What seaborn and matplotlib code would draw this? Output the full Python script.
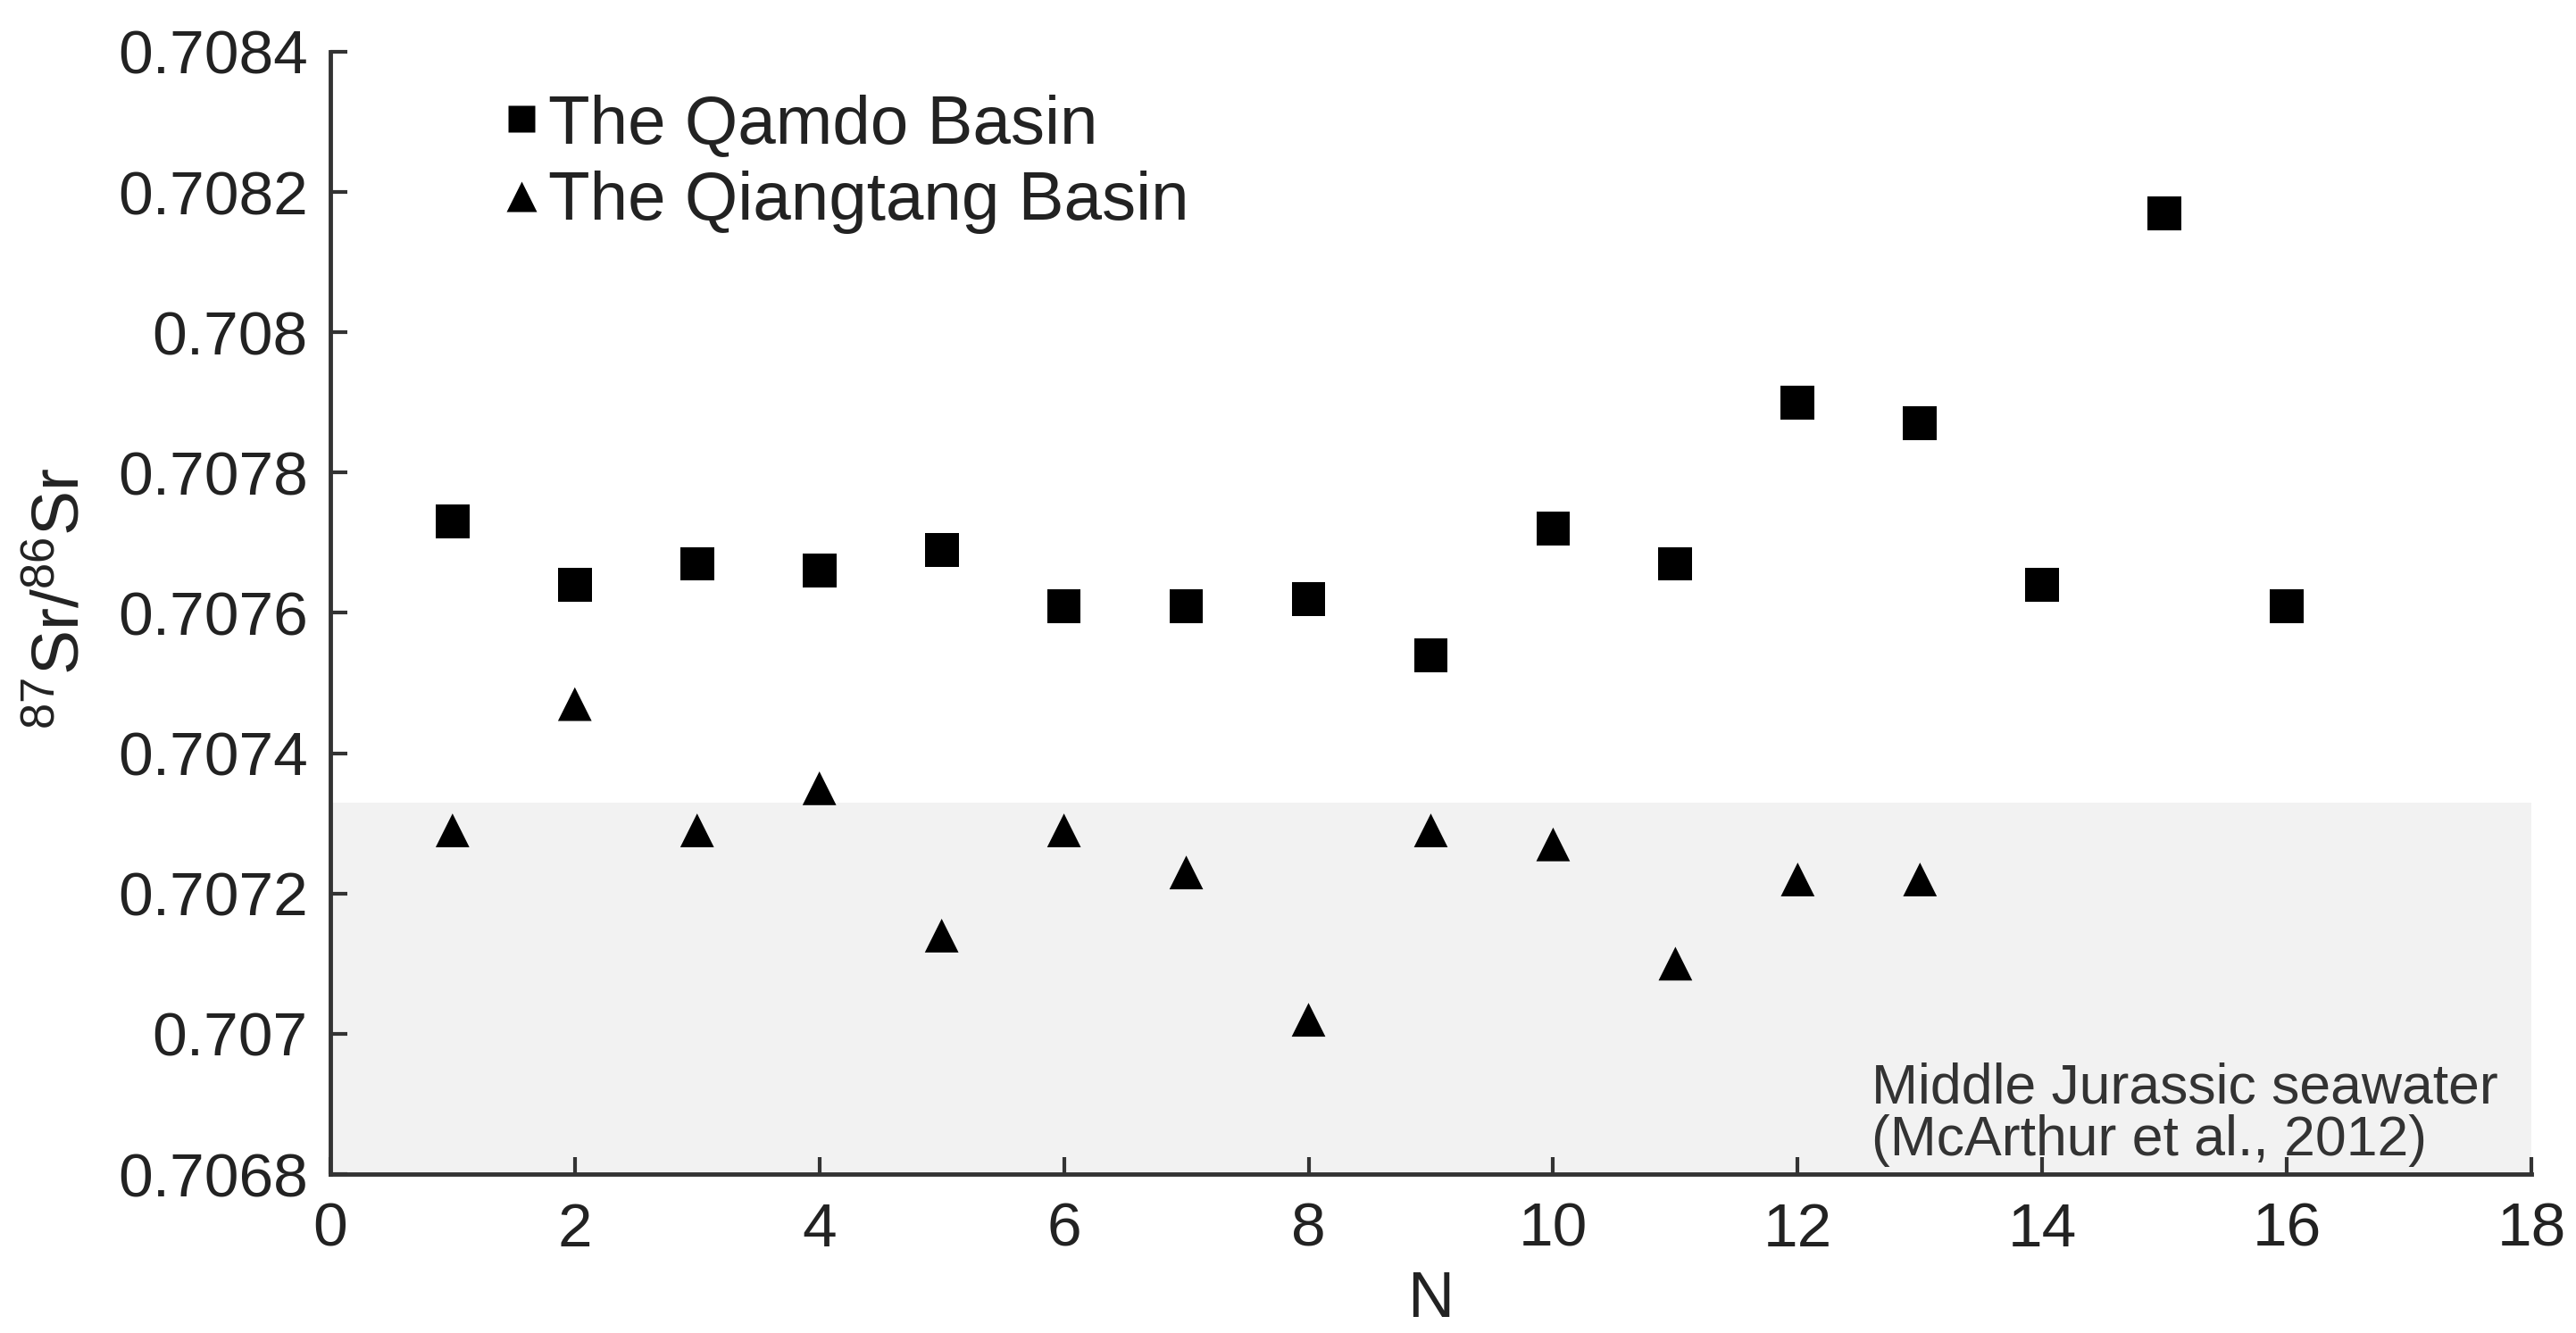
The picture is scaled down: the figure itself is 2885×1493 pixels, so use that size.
import numpy as np
import pandas as pd
import seaborn as sns
import matplotlib.pyplot as plt
from matplotlib.lines import Line2D

# valores
n_qamdo = [1, 2, 3, 4, 5, 6, 7, 8, 9, 10, 11, 12, 13, 14, 15, 16]
sr_qamdo = [0.70773, 0.70764, 0.70767, 0.70766, 0.70769, 0.70761, 0.70761, 0.70762,
            0.70754, 0.70772, 0.70767, 0.70790, 0.70787, 0.70764, 0.70817, 0.70761]

n_qiangtang = [1, 2, 3, 4, 5, 6, 7, 8, 9, 10, 11, 12, 13]
sr_qiangtang = [0.70729, 0.70747, 0.70729, 0.70735, 0.70714, 0.70729, 0.70723, 0.70702,
                0.70729, 0.70727, 0.70710, 0.70722, 0.70722]

# faixa da agua do mar do Jurassico medio
seawater_low = 0.7068
seawater_high = 0.70733

labels = ['The Qamdo Basin', 'The Qiangtang Basin']

df = pd.concat([
    pd.DataFrame({'N': n_qamdo, 'Sr': sr_qamdo, 'Basin': labels[0]}),
    pd.DataFrame({'N': n_qiangtang, 'Sr': sr_qiangtang, 'Basin': labels[1]}),
])

sns.set_theme(style='ticks')
plt.rcParams['font.family'] = ['Liberation Sans', 'DejaVu Sans']
plt.rcParams['mathtext.default'] = 'regular'

fig = plt.figure(figsize=(28.85, 14.93), dpi=100)
ax = fig.add_axes([0.1282, 0.1192, 0.8545, 0.842])

ax.axhspan(seawater_low, seawater_high, color='#f2f2f2', lw=0, zorder=0)

sns.scatterplot(data=df, x='N', y='Sr', style='Basin', markers={labels[0]: 's', labels[1]: '^'},
                color='black', s=740, edgecolor='none', legend=False, ax=ax, zorder=3)

ax.set_xlim(0, 18)
ax.set_ylim(0.7068, 0.7084)
ax.set_xticks(np.arange(0, 19, 2))
ax.set_yticks([0.7068, 0.707, 0.7072, 0.7074, 0.7076, 0.7078, 0.708, 0.7082, 0.7084])
ax.set_yticklabels(['0.7068', '0.707', '0.7072', '0.7074', '0.7076', '0.7078', '0.708', '0.7082', '0.7084'])

sns.despine(ax=ax)
for side in ['left', 'bottom']:
    ax.spines[side].set_linewidth(3.5)
    ax.spines[side].set_color('#333333')
ax.tick_params(direction='in', length=14, width=3, color='#333333', labelsize=50,
               labelcolor='#222222')
ax.tick_params(axis='y', pad=18)
ax.tick_params(axis='x', pad=22)

ax.set_xlabel('N', fontsize=52, color='#222222', labelpad=10)
ax.set_ylabel(r'$^{87}$Sr/$^{86}$Sr', fontsize=54, color='#222222')
ax.yaxis.set_label_coords(-0.108, 0.513)

handles = [
    Line2D([0], [0], marker='s', color='none', markerfacecolor='black', markeredgecolor='none',
           markersize=21, label=labels[0]),
    Line2D([0], [0], marker='^', color='none', markerfacecolor='black', markeredgecolor='none',
           markersize=24, label=labels[1]),
]
ax.legend(handles=handles, loc='upper left', bbox_to_anchor=(0.0775, 0.9625), frameon=False,
          fontsize=55, handlelength=0.6, handletextpad=0.1, labelspacing=0.2,
          borderaxespad=0, borderpad=0, labelcolor='#222222')

ax.text(0.70, 0.006, 'Middle Jurassic seawater\n(McArthur et al., 2012)', transform=ax.transAxes,
        fontsize=45, color='#333333', ha='left', va='bottom', linespacing=1.0)

fig.savefig('out.png', dpi=100, facecolor='white')
